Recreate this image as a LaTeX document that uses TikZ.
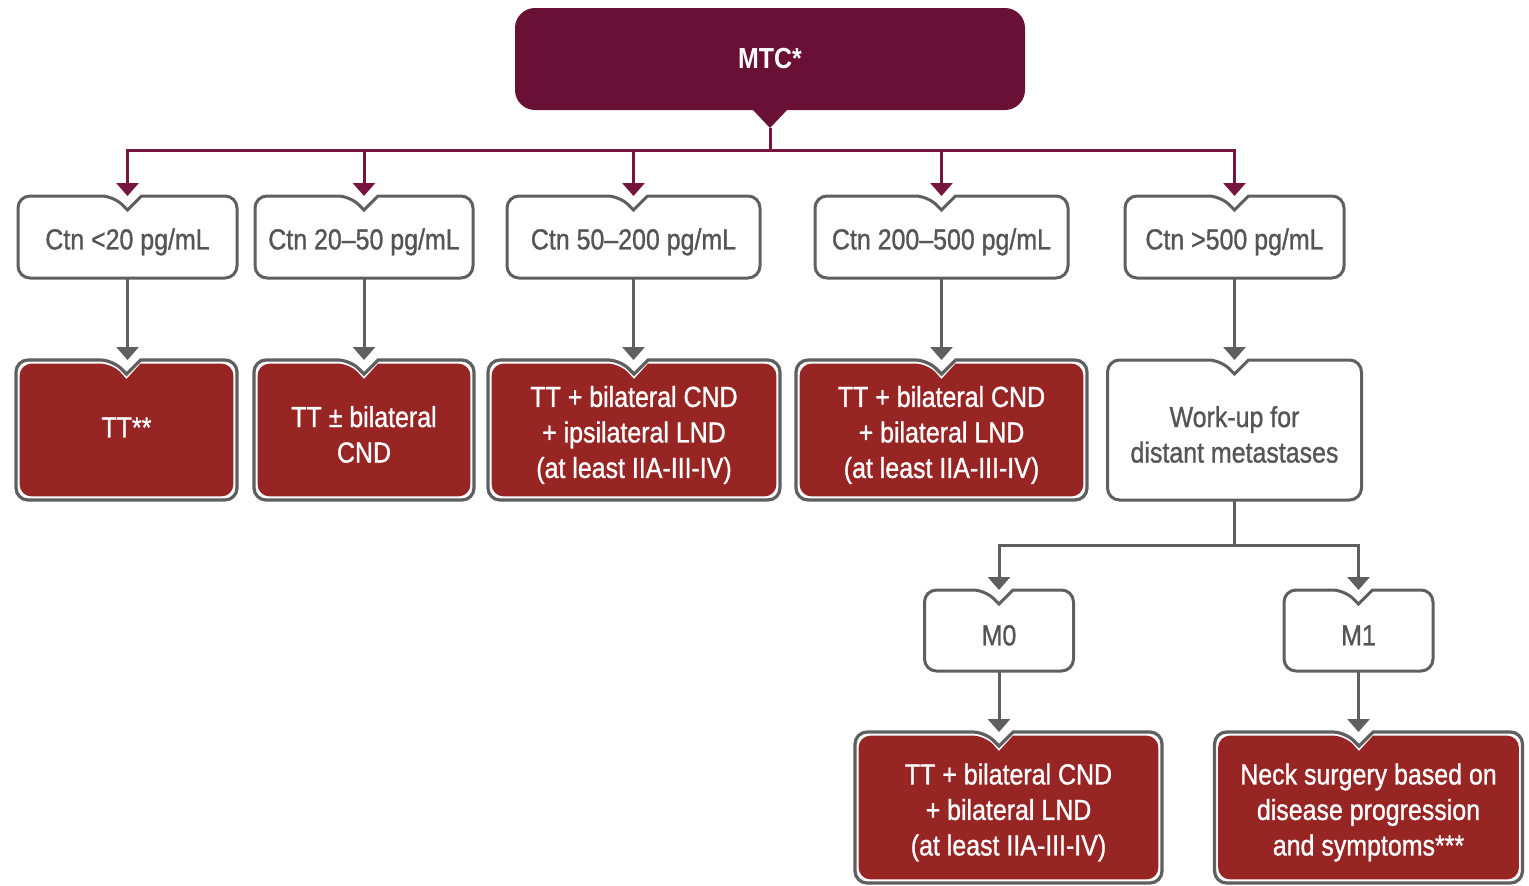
\documentclass[tikz,border=0pt]{standalone}
\usepackage{fontspec}
\newfontfamily\cond{Liberation Sans}[FakeStretch=0.86, FakeBold=1.0, Ligatures=TeX]
\newfontfamily\condbold{Liberation Sans}[FakeStretch=0.86, Ligatures=TeX]
\usetikzlibrary{arrows.meta,backgrounds}

\definecolor{mtcfill}{RGB}{106,16,53}
\definecolor{busmaroon}{RGB}{118,22,62}
\definecolor{treatred}{RGB}{150,37,36}
\definecolor{bordergray}{RGB}{95,95,95}
\definecolor{textgray}{RGB}{85,85,85}

% keep the baselines evenly spaced whatever the letters
\setlength\lineskiplimit{-100pt}
\setlength\lineskip{0pt}

% line strut: keeps the capitals of every line a little below the box centre
\newcommand\ls{\rule[-0.6pt]{0pt}{16pt}}

% Outline of a box with a V-shaped notch in its top edge.
% #1 node, #2 inset, #3 horizontal offset of the notch, #4 path options
\newcommand\notchbox[4]{%
  \path[#4] ([shift={(#3+7pt,-#2)}]#1.north) [rounded corners=6pt]
    -- ([shift={(-#2,-#2)}]#1.north east)
    -- ([shift={(-#2,#2)}]#1.south east)
    -- ([shift={(#2,#2)}]#1.south west)
    -- ([shift={(#2,-#2)}]#1.north west)
    -- ([shift={(#3-7pt,-#2)}]#1.north) [sharp corners]
    -- ([shift={(#3,-7pt-1.4*#2)}]#1.north) -- cycle;}

\tikzset{
  boxtext/.style={inner sep=0pt, outer sep=0pt, align=center,
    font=\cond\fontsize{14.5}{17.75}\selectfont},
  plainbox/.style={boxtext, text=textgray, minimum height=41pt},
  treatbox/.style={boxtext, text=white},
  plainedge/.style={draw=bordergray, line width=1.5pt, fill=white},
  treatedge/.style={draw=bordergray, line width=1.6pt, fill=white},
  treatfill/.style={fill=treatred},
  busline/.style={draw=busmaroon, line width=1.5pt},
  busarrow/.style={busline, -{Triangle[width=11pt,length=6.5pt]}},
  grayarrow/.style={draw=bordergray, line width=1.5pt,
    -{Triangle[width=11pt,length=6.5pt]}},
  grayline/.style={draw=bordergray, line width=1.5pt},
}

\begin{document}
\begin{tikzpicture}[x=0.5pt, y=-0.5pt]
\useasboundingbox (0,0) rectangle (1529,885);

% top box
\node[boxtext, text=white, fill=mtcfill, rounded corners=10pt,
  minimum width=255pt, minimum height=51pt,
  font=\condbold\bfseries\fontsize{14.5}{17.75}\selectfont] (mtc) at (770,59) {MTC*};
\fill[mtcfill] ([xshift=-9pt,yshift=0.5pt]mtc.south) -- ([xshift=9pt,yshift=0.5pt]mtc.south)
  -- ([yshift=-9pt]mtc.south) -- cycle;
\coordinate (bus) at (770,150);

% calcitonin levels
\node[plainbox, minimum width=109.5pt] (c1) at (127.5,237) {\ls Ctn <20 pg/mL};
\node[plainbox, minimum width=109pt]   (c2) at (364,237)   {\ls Ctn 20–50 pg/mL};
\node[plainbox, minimum width=126.5pt] (c3) at (633.5,237) {\ls Ctn 50–200 pg/mL};
\node[plainbox, minimum width=126.5pt] (c4) at (941.5,237) {\ls Ctn 200–500 pg/mL};
\node[plainbox, minimum width=109.5pt] (c5) at (1234.5,237) {\ls Ctn >500 pg/mL};

% treatments
\node[treatbox, minimum width=110.5pt, minimum height=70pt] (t1) at (126.5,430)
  {\raisebox{4pt}[16pt][0.6pt]{TT**}};
\node[treatbox, minimum width=110pt, minimum height=70pt] (t2) at (364,430)
  {\ls TT ± bilateral\\\ls CND};
\node[treatbox, minimum width=146pt, minimum height=70pt] (t3) at (634,430)
  {\ls TT + bilateral CND\\\ls + ipsilateral LND\\\ls (at least IIA-III-IV)};
\node[treatbox, minimum width=145.5pt, minimum height=70pt] (t4) at (941.5,430)
  {\ls TT + bilateral CND\\\ls + bilateral LND\\\ls (at least IIA-III-IV)};
\node[plainbox, minimum width=127pt, minimum height=70pt] (w5) at (1234.5,430)
  {\ls Work-up for\\\ls distant metastases};

% metastasis status
\node[plainbox, minimum width=74.5pt, minimum height=40.5pt] (m0) at (999,630.5) {\ls M0};
\node[plainbox, minimum width=74.5pt, minimum height=40.5pt] (m1) at (1358.5,630.5) {\ls M1};
\coordinate (split) at (1234.5,545);

\node[treatbox, minimum width=153.5pt, minimum height=75.5pt] (b1) at (1008.5,807.5)
  {\ls TT + bilateral CND\\\ls + bilateral LND\\\ls (at least IIA-III-IV)};
\node[treatbox, minimum width=154pt, minimum height=75.5pt] (b2) at (1368.5,807.5)
  {\ls Neck surgery based on\\\ls disease progression\\\ls and symptoms***};

\begin{pgfonlayer}{background}
  \foreach \n in {c1,c2,c3,c4,c5,w5,m0,m1} {\notchbox{\n}{0pt}{0pt}{plainedge}}
  \foreach \n in {t1,t2,t3,t4} {
    \notchbox{\n}{0pt}{0pt}{treatedge}
    \notchbox{\n}{1.8pt}{0pt}{treatfill}}
  \notchbox{b1}{0pt}{-4.75pt}{treatedge}
  \notchbox{b1}{1.8pt}{-4.75pt}{treatfill}
  \notchbox{b2}{0pt}{-4.75pt}{treatedge}
  \notchbox{b2}{1.8pt}{-4.75pt}{treatfill}
\end{pgfonlayer}

% connectors
\draw[busline] ([yshift=-9pt]mtc.south) -- (bus);
\foreach \n in {c1,c2,c3,c4,c5} {\draw[busarrow] (bus) -| (\n.north);}

\draw[grayarrow] (c1.south) -- (c1.south |- t1.north);
\draw[grayarrow] (c2.south) -- (c2.south |- t2.north);
\draw[grayarrow] (c3.south) -- (c3.south |- t3.north);
\draw[grayarrow] (c4.south) -- (c4.south |- t4.north);
\draw[grayarrow] (c5.south) -- (c5.south |- w5.north);

\draw[grayline] (w5.south) -- (split);
\draw[grayarrow] (split) -| (m0.north);
\draw[grayarrow] (split) -| (m1.north);
\draw[grayarrow] (m0.south) -- (m0.south |- b1.north);
\draw[grayarrow] (m1.south) -- (m1.south |- b2.north);
\end{tikzpicture}
\end{document}
